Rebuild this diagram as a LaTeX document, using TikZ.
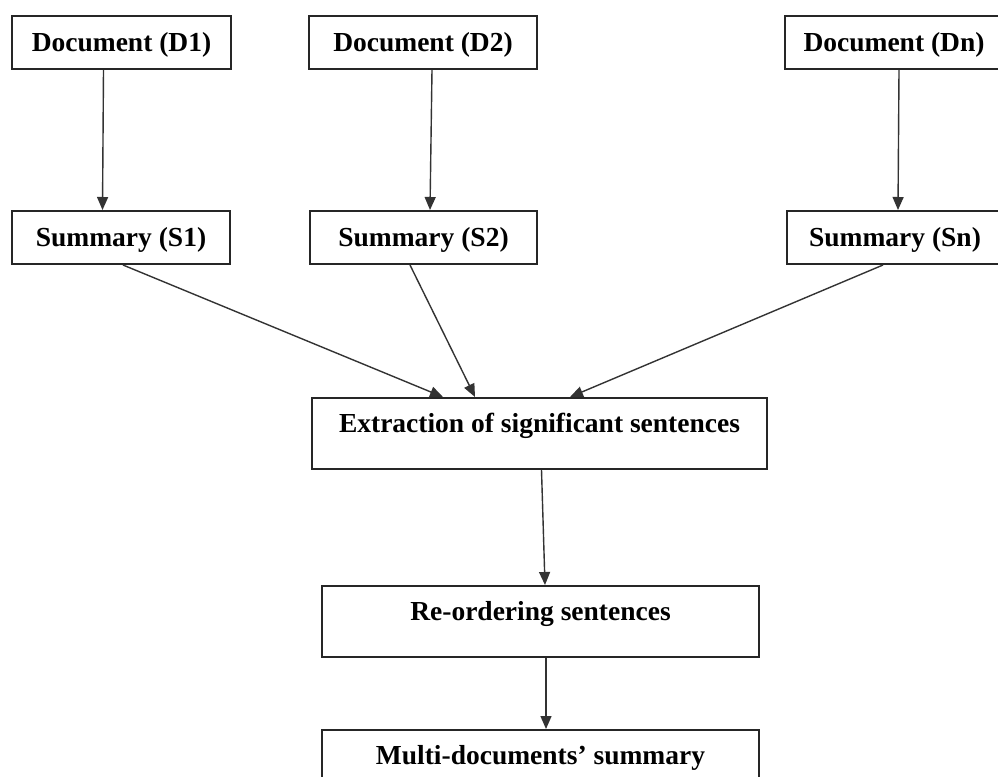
\documentclass[tikz,border=0pt]{standalone}
\usepackage{fontspec}
\setmainfont{Liberation Serif}
\usetikzlibrary{arrows.meta}

\begin{document}
\begin{tikzpicture}[x=1pt,y=1pt,
  font=\fontsize{27.5}{33}\selectfont\bfseries,
  box/.style={draw=black!85,line width=2pt,inner sep=0pt,
    text height=18pt,text depth=0pt,minimum height=53pt},
  bigbox/.style={box,minimum height=71pt,text height=19pt,text depth=21pt},
  arr/.style={-{Triangle[length=13pt,width=11pt]},line width=1.4pt,black!80}]
  \useasboundingbox (0,0) rectangle (998,-776);
  % documents and their summaries
  \node[box,minimum width=219pt] (d1) at (121.5,-42.5) {Document (D1)};
  \node[box,minimum width=228pt] (d2) at (423,-42.5) {Document (D2)};
  \node[box,minimum width=218pt] (dn) at (894,-42.5) {Document (Dn)};
  \node[box,minimum width=218pt] (s1) at (121,-237.5) {Summary (S1)};
  \node[box,minimum width=227pt] (s2) at (423.5,-237.5) {Summary (S2)};
  \node[box,minimum width=216pt] (sn) at (895,-237.5) {Summary (Sn)};
  % merging steps
  \node[bigbox,minimum width=455pt] (ext) at (539.5,-433.5)
    {Extraction of significant sentences};
  \node[bigbox,minimum width=437pt] (reo) at (540.5,-621.5)
    {Re-ordering sentences};
  \node[bigbox,minimum width=437pt] (multi) at (540.5,-765.5)
    {Multi-documents’ summary};
  \draw[arr] ([xshift=-18pt]d1.south) -- ([xshift=-18.5pt]s1.north);
  \draw[arr] ([xshift=9pt]d2.south) -- ([xshift=6.5pt]s2.north);
  \draw[arr] ([xshift=5pt]dn.south) -- ([xshift=3pt]sn.north);
  \foreach \s/\a/\b in {s1/2/-96.5,s2/-13.5/-64.5,sn/-12/30.5} {
    \draw[arr] ([xshift=\a pt]\s.south) -- ([xshift=\b pt]ext.north);
  }
  \draw[arr] ([xshift=2pt]ext.south) -- ([xshift=4.5pt]reo.north);
  \draw[arr] ([xshift=5.5pt]reo.south) -- ([xshift=5.5pt]multi.north);
\end{tikzpicture}
\end{document}
